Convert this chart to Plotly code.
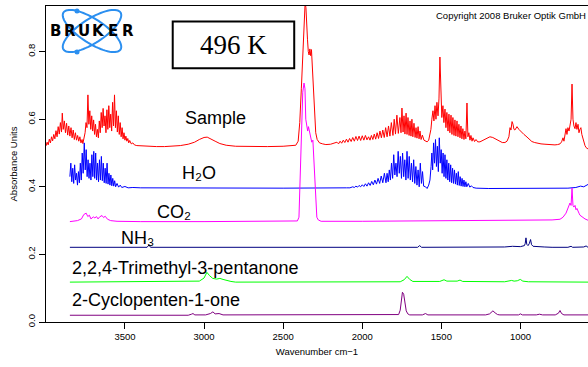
import numpy as np
import plotly.graph_objects as go

# ---------------- data (wavenumber cm-1, absorbance) ----------------
sample = [(3999,0.521),(3992,0.532),(3985,0.524),(3978,0.541),(3971,0.530),(3964,0.548),(3957,0.536),(3950,0.555),(3943,0.542),(3936,0.566),(3929,0.548),(3922,0.578),(3915,0.556),(3908,0.590),(3901,0.562),(3896,0.618),(3890,0.570),(3883,0.595),(3876,0.560),(3869,0.588),(3862,0.553),(3855,0.580),(3848,0.550),(3841,0.575),(3834,0.545),(3827,0.568),(3820,0.540),(3813,0.560),(3806,0.538),(3799,0.552),(3792,0.535),(3785,0.548),(3778,0.530),(3771,0.540),(3766,0.528),(3759,0.545),(3752,0.560),(3746,0.590),(3740,0.575),(3734,0.672),(3728,0.585),(3722,0.625),(3716,0.570),(3710,0.610),(3704,0.565),(3698,0.598),(3692,0.555),(3686,0.585),(3680,0.548),(3674,0.570),(3668,0.545),(3662,0.595),(3656,0.560),(3650,0.620),(3644,0.575),(3638,0.632),(3632,0.580),(3626,0.610),(3620,0.560),(3614,0.628),(3608,0.570),(3602,0.640),(3596,0.575),(3590,0.615),(3584,0.565),(3578,0.650),(3572,0.580),(3566,0.672),(3560,0.575),(3554,0.625),(3548,0.562),(3542,0.610),(3536,0.555),(3530,0.590),(3524,0.548),(3518,0.575),(3512,0.542),(3506,0.560),(3500,0.538),(3494,0.550),(3488,0.535),(3482,0.543),(3476,0.530),(3470,0.537),(3460,0.527),(3450,0.530),(3440,0.524),(3425,0.522),(3400,0.521),(3350,0.519),(3300,0.519),(3250,0.519),(3200,0.520),(3150,0.522),(3100,0.526),(3060,0.532),(3030,0.540),(3000,0.546),(2980,0.547),(2960,0.543),(2930,0.535),(2900,0.528),(2860,0.523),(2800,0.520),(2700,0.519),(2600,0.519),(2500,0.520),(2450,0.521),(2420,0.523),(2405,0.535),(2395,0.590),(2385,0.690),(2375,0.790),(2367,0.880),(2361,0.945),(2356,0.930),(2351,0.860),(2346,0.835),(2341,0.800),(2336,0.790),(2331,0.808),(2326,0.788),(2321,0.806),(2316,0.765),(2311,0.725),(2306,0.660),(2300,0.600),(2294,0.560),(2285,0.540),(2270,0.530),(2250,0.527),(2230,0.525),(2200,0.526),(2180,0.528),(2160,0.532),(2150,0.527),(2140,0.535),(2130,0.529),(2120,0.538),(2110,0.531),(2100,0.541),(2090,0.532),(2080,0.543),(2070,0.534),(2060,0.546),(2050,0.535),(2040,0.549),(2030,0.537),(2020,0.550),(2010,0.537),(2000,0.551),(1990,0.538),(1980,0.552),(1970,0.539),(1960,0.548),(1951,0.538),(1942,0.552),(1933,0.540),(1924,0.556),(1915,0.541),(1906,0.560),(1897,0.543),(1888,0.565),(1879,0.545),(1870,0.568),(1861,0.546),(1852,0.575),(1843,0.548),(1834,0.580),(1825,0.550),(1816,0.590),(1806,0.552),(1798,0.600),(1790,0.556),(1781,0.612),(1772,0.558),(1762,0.605),(1755,0.560),(1749,0.633),(1742,0.562),(1736,0.610),(1730,0.556),(1723,0.618),(1717,0.555),(1711,0.605),(1704,0.552),(1698,0.595),(1692,0.550),(1686,0.600),(1680,0.548),(1673,0.588),(1666,0.546),(1660,0.575),(1654,0.544),(1647,0.578),(1641,0.542),(1635,0.565),(1628,0.540),(1620,0.553),(1610,0.538),(1600,0.535),(1590,0.533),(1580,0.538),(1572,0.552),(1566,0.570),(1560,0.600),(1553,0.625),(1547,0.595),(1540,0.640),(1534,0.600),(1528,0.650),(1521,0.610),(1515,0.660),(1509,0.784),(1503,0.650),(1497,0.605),(1490,0.640),(1484,0.590),(1477,0.630),(1471,0.575),(1465,0.620),(1458,0.565),(1452,0.615),(1446,0.560),(1439,0.612),(1433,0.555),(1427,0.605),(1420,0.552),(1414,0.598),(1408,0.550),(1401,0.595),(1395,0.548),(1389,0.585),(1382,0.545),(1376,0.580),(1370,0.542),(1364,0.572),(1357,0.540),(1351,0.565),(1345,0.542),(1338,0.648),(1332,0.548),(1326,0.560),(1319,0.538),(1313,0.552),(1306,0.535),(1300,0.545),(1290,0.534),(1281,0.540),(1270,0.533),(1256,0.533),(1240,0.537),(1225,0.541),(1210,0.546),(1193,0.548),(1175,0.546),(1161,0.543),(1145,0.538),(1130,0.534),(1115,0.531),(1098,0.531),(1085,0.535),(1073,0.548),(1066,0.575),(1060,0.568),(1053,0.593),(1047,0.585),(1041,0.570),(1035,0.568),(1028,0.574),(1022,0.578),(1010,0.570),(1003,0.566),(990,0.560),(978,0.555),(965,0.550),(953,0.544),(940,0.538),(928,0.534),(910,0.531),(896,0.529),(870,0.527),(845,0.526),(820,0.525),(800,0.524),(782,0.524),(765,0.525),(750,0.527),(740,0.533),(731,0.545),(725,0.535),(718,0.560),(712,0.572),(706,0.555),(700,0.575),(693,0.565),(687,0.585),(680,0.600),(674,0.704),(668,0.600),(662,0.580),(655,0.572),(649,0.590),(643,0.570),(636,0.585),(630,0.560),(624,0.570),(618,0.575),(612,0.555),(605,0.540),(598,0.530),(592,0.522),(585,0.516),(573,0.512)]

h2o = [(3848,0.430),(3842,0.470),(3836,0.415),(3830,0.455),(3824,0.410),(3818,0.465),(3812,0.420),(3806,0.440),(3800,0.405),(3794,0.445),(3788,0.412),(3782,0.470),(3776,0.420),(3770,0.500),(3764,0.440),(3757,0.530),(3751,0.450),(3745,0.510),(3739,0.430),(3733,0.480),(3727,0.425),(3721,0.470),(3715,0.420),(3709,0.495),(3703,0.430),(3697,0.505),(3691,0.425),(3685,0.500),(3679,0.420),(3673,0.470),(3667,0.415),(3661,0.480),(3655,0.420),(3649,0.490),(3643,0.418),(3637,0.470),(3631,0.412),(3625,0.455),(3619,0.410),(3613,0.470),(3607,0.408),(3601,0.440),(3595,0.405),(3589,0.435),(3583,0.403),(3577,0.425),(3571,0.402),(3565,0.418),(3559,0.400),(3550,0.410),(3540,0.399),(3530,0.405),(3520,0.398),(3500,0.401),(3480,0.397),(3450,0.398),(3400,0.397),(3000,0.396),(2500,0.396),(2100,0.397),(2078,0.397),(2060,0.400),(2050,0.398),(2040,0.402),(2030,0.399),(2020,0.404),(2010,0.400),(2000,0.406),(1990,0.401),(1980,0.409),(1970,0.402),(1960,0.412),(1950,0.404),(1940,0.416),(1930,0.406),(1920,0.420),(1910,0.408),(1900,0.425),(1890,0.410),(1880,0.432),(1870,0.412),(1860,0.440),(1850,0.412),(1843,0.440),(1836,0.415),(1829,0.450),(1822,0.420),(1815,0.470),(1808,0.425),(1801,0.495),(1794,0.435),(1787,0.470),(1780,0.430),(1773,0.505),(1766,0.440),(1759,0.490),(1752,0.425),(1745,0.500),(1738,0.430),(1731,0.480),(1724,0.420),(1717,0.505),(1710,0.425),(1703,0.490),(1696,0.420),(1689,0.470),(1682,0.415),(1675,0.480),(1668,0.410),(1661,0.460),(1654,0.405),(1647,0.450),(1640,0.400),(1633,0.470),(1626,0.410),(1619,0.445),(1612,0.402),(1600,0.400),(1590,0.395),(1580,0.405),(1572,0.420),(1565,0.460),(1560,0.500),(1555,0.450),(1549,0.530),(1543,0.470),(1537,0.540),(1531,0.460),(1525,0.520),(1519,0.445),(1513,0.545),(1507,0.470),(1501,0.510),(1495,0.440),(1489,0.500),(1483,0.430),(1477,0.495),(1471,0.425),(1465,0.480),(1459,0.420),(1453,0.470),(1447,0.415),(1441,0.465),(1435,0.412),(1429,0.455),(1423,0.410),(1417,0.450),(1411,0.408),(1405,0.440),(1399,0.405),(1393,0.445),(1387,0.404),(1381,0.430),(1375,0.402),(1369,0.425),(1363,0.401),(1357,0.420),(1351,0.400),(1345,0.415),(1339,0.400),(1330,0.410),(1320,0.399),(1310,0.403),(1300,0.398),(1280,0.396),(1200,0.395),(1000,0.395),(700,0.396),(650,0.398),(620,0.402),(600,0.400),(580,0.405),(573,0.407)]

co2 = [(3848,0.297),(3830,0.298),(3800,0.300),(3775,0.305),(3760,0.318),(3745,0.322),(3735,0.312),(3725,0.316),(3715,0.305),(3700,0.311),(3690,0.308),(3680,0.312),(3670,0.305),(3660,0.311),(3645,0.315),(3635,0.309),(3625,0.313),(3610,0.304),(3590,0.300),(3550,0.298),(3400,0.297),(3000,0.297),(2500,0.298),(2410,0.299),(2400,0.310),(2392,0.420),(2384,0.560),(2376,0.680),(2368,0.707),(2362,0.690),(2357,0.600),(2351,0.580),(2345,0.565),(2340,0.578),(2333,0.560),(2326,0.545),(2319,0.532),(2312,0.538),(2306,0.480),(2300,0.400),(2294,0.340),(2287,0.310),(2278,0.302),(2260,0.298),(2000,0.298),(1500,0.299),(1000,0.300),(800,0.302),(750,0.304),(731,0.310),(712,0.322),(700,0.335),(687,0.352),(680,0.345),(674,0.396),(668,0.345),(662,0.340),(655,0.345),(649,0.332),(643,0.336),(636,0.325),(630,0.322),(624,0.316),(612,0.311),(605,0.309),(592,0.305),(573,0.301)]

nh3 = [(3848,0.221),(3360,0.221),(3348,0.228),(3338,0.221),(1650,0.221),(1637,0.226),(1625,0.221),(1300,0.221),(1190,0.222),(1150,0.223),(1100,0.222),(1050,0.224),(1000,0.223),(975,0.226),(970,0.232),(965,0.249),(960,0.230),(952,0.226),(944,0.232),(936,0.244),(930,0.229),(920,0.224),(900,0.223),(880,0.224),(850,0.222),(800,0.221),(700,0.221),(680,0.224),(670,0.221),(600,0.222),(585,0.225),(573,0.221)]

trimethyl = [(3848,0.118),(3100,0.119),(3030,0.121),(3000,0.130),(2982,0.147),(2965,0.137),(2945,0.129),(2920,0.127),(2900,0.129),(2880,0.126),(2860,0.123),(2830,0.120),(2800,0.118),(1760,0.119),(1735,0.125),(1717,0.135),(1700,0.126),(1680,0.120),(1510,0.120),(1483,0.125),(1465,0.121),(1400,0.121),(1382,0.124),(1365,0.120),(1100,0.119),(1070,0.121),(1056,0.123),(1040,0.121),(1020,0.122),(1001,0.126),(985,0.121),(950,0.119),(573,0.118)]

cyclopentenone = [(3848,0.020),(3100,0.020),(3080,0.023),(3070,0.025),(3058,0.021),(2990,0.021),(2960,0.025),(2944,0.030),(2930,0.024),(2905,0.025),(2880,0.021),(1800,0.020),(1770,0.022),(1760,0.035),(1752,0.070),(1746,0.088),(1738,0.082),(1730,0.055),(1722,0.033),(1712,0.024),(1700,0.021),(1620,0.021),(1600,0.025),(1585,0.021),(1480,0.021),(1460,0.023),(1440,0.021),(1220,0.021),(1195,0.024),(1174,0.033),(1160,0.027),(1145,0.022),(1130,0.021),(1012,0.021),(1000,0.024),(988,0.021),(900,0.021),(880,0.023),(860,0.021),(780,0.021),(760,0.026),(750,0.034),(740,0.025),(725,0.021),(573,0.021)]

series_names = ["Sample", "H2O", "CO2", "NH3", "2,2,4-Trimethyl-3-pentanone", "2-Cyclopenten-1-one"]
series_data = [sample, h2o, co2, nh3, trimethyl, cyclopentenone]
series_colors = ["#ff0000", "#0000ff", "#ff00ff", "#000080", "#00ff00", "#800080"]
label_texts = ["Sample", "H\u2082O", "CO\u2082", "NH\u2083",
               "2,2,4-Trimethyl-3-pentanone", "2-Cyclopenten-1-one"]
label_x = [3134, 3153, 3310, 3538, 3848, 3848]
label_y = [0.604, 0.441, 0.325, 0.248, 0.159, 0.064]

x_ticks = [3500, 3000, 2500, 2000, 1500, 1000]
y_ticks = [0.0, 0.2, 0.4, 0.6, 0.8]
y_ticktext = ["0.0", "0.2", "0.4", "0.6", "0.8"]

# ---------------- figure ----------------
W, H = 588, 367
ML, MR, MT, MB = 46, 0, 6, 45
PW, PH = W - ML - MR, H - MT - MB
FONT = "Liberation Sans, Arial, sans-serif"

fig = go.Figure()
for name, pts, col in zip(series_names, series_data, series_colors):
    fig.add_trace(go.Scatter(
        x=[p[0] for p in pts], y=[p[1] for p in pts], mode="lines", name=name,
        line=dict(color=col, width=1), hoverinfo="skip", showlegend=False))

anns = []
for t, x, y in zip(label_texts, label_x, label_y):
    anns.append(dict(x=x, y=y, xref="x", yref="y", text=t, showarrow=False,
                     xanchor="left", yanchor="middle",
                     font=dict(family=FONT + ", DejaVu Sans", size=18, color="black")))

# 496 K box text
anns.append(dict(x=2814, y=0.82, xref="x", yref="y", text="496 K", showarrow=False,
                 xanchor="center", yanchor="middle",
                 font=dict(family="Liberation Serif, Times New Roman, serif", size=27, color="black")))


def px2paper(px, py):
    return (px - ML) / PW, (MT + PH - py) / PH


# copyright
cx, cy = px2paper(588, 16)
anns.append(dict(x=1, y=cy, xref="paper", yref="paper",
                 text="Copyright 2008 Bruker Optik GmbH", showarrow=False,
                 xanchor="right", yanchor="middle",
                 font=dict(family=FONT, size=9.5, color="black")))

# logo word, letter by letter (wide lettering)
for i, ch in enumerate("BRUKER"):
    lx, ly = px2paper(55.5 + i * 14.45, 31.5)
    anns.append(dict(x=lx, y=ly, xref="paper", yref="paper", text=ch,
                     showarrow=False, xanchor="center", yanchor="middle",
                     font=dict(family="DejaVu Sans, sans-serif", size=15, color="black",
                               weight="bold")))

shapes = [dict(type="rect", xref="x", yref="y", x0=3198, x1=2430, y0=0.751, y1=0.889,
               line=dict(color="black", width=2), fillcolor="rgba(0,0,0,0)")]

logo_blue = "#2b8ff0"
phi = np.linspace(0, 2 * np.pi, 73)
for th in (np.radians(33), np.radians(-33)):
    ex = 92 + 34 * np.cos(phi) * np.cos(th) - 12 * np.sin(phi) * np.sin(th)
    ey = 31 + 34 * np.cos(phi) * np.sin(th) + 12 * np.sin(phi) * np.cos(th)
    pts = [px2paper(a, b) for a, b in zip(ex, ey)]
    path = "M " + " L ".join(f"{a:.5f},{b:.5f}" for a, b in pts) + " Z"
    shapes.append(dict(type="path", xref="paper", yref="paper", path=path,
                       line=dict(color=logo_blue, width=2)))
for dx, dy in ((77, 11), (77, 52)):
    x0, y0 = px2paper(dx - 2.5, dy + 2.5)
    x1, y1 = px2paper(dx + 2.5, dy - 2.5)
    shapes.append(dict(type="circle", xref="paper", yref="paper", x0=x0, x1=x1, y0=y0, y1=y1,
                       fillcolor=logo_blue, line=dict(color=logo_blue, width=0)))

fig.update_layout(
    width=W, height=H, margin=dict(l=ML, r=MR, t=MT, b=MB, pad=0),
    paper_bgcolor="white", plot_bgcolor="white", showlegend=False,
    font=dict(family=FONT, size=9.5, color="black"),
    annotations=anns, shapes=shapes,
)
fig.update_xaxes(range=[3999, 573], tickmode="array", tickvals=x_ticks,
                 ticks="outside", ticklen=6, tickwidth=1, tickcolor="black",
                 showline=True, linecolor="black", linewidth=1, mirror=True,
                 showgrid=False, zeroline=False,
                 tickfont=dict(size=9.5),
                 title=dict(text="Wavenumber cm\u22121", font=dict(size=9.5), standoff=6))
fig.update_yaxes(range=[0, 0.935], tickmode="array", tickvals=y_ticks, ticktext=y_ticktext,
                 tickangle=-90, ticks="outside", ticklen=6, tickwidth=1, tickcolor="black",
                 showline=True, linecolor="black", linewidth=1, mirror=False,
                 showgrid=False, zeroline=False,
                 tickfont=dict(size=9.5),
                 title=dict(text="Absorbance Units", font=dict(size=9.5), standoff=6))

fig.write_html("out.html")
